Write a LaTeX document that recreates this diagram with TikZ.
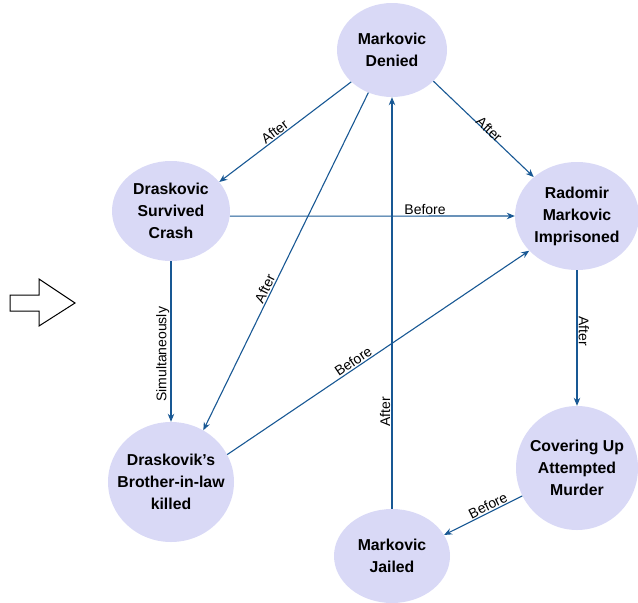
\documentclass[tikz,border=0pt]{standalone}
\usepackage{fontspec}
\setmainfont{Liberation Sans}
\usetikzlibrary{arrows.meta,shapes.geometric}
\definecolor{nodefill}{RGB}{217,217,246}
\definecolor{edgecol}{RGB}{24,88,148}
\begin{document}
\begin{tikzpicture}[x=1pt,y=-1pt,
  evt/.style={ellipse,fill=nodefill,draw=none,inner sep=0pt},
  evtxt/.style={align=center,font=\bfseries\fontsize{15.8}{22}\selectfont,inner sep=0pt},
  rel/.style={draw=edgecol,line width=1.1pt,-{Stealth[length=8pt,width=6.5pt]}},
  lbl/.style={font=\fontsize{14}{16}\selectfont,inner sep=1.2pt,text=black}]
\useasboundingbox (0,0) rectangle (638,603);

% block arrow on the left
\draw[line width=1pt,line join=miter] (10,295) -- (39,295) -- (39,279) -- (75,303) -- (39,326) -- (39,311) -- (10,311) -- cycle;

% events
\node[evt,minimum width=110pt,minimum height=94pt] (D) at (392,50) {};
\node[evtxt] (Dt) at (D) {Markovic\\Denied};
\node[evt,minimum width=118pt,minimum height=100pt] (S) at (171,211) {};
\node[evtxt] (St) at (S) {Draskovic\\Survived\\Crash};
\node[evt,minimum width=124pt,minimum height=108pt] (R) at (577,216) {};
\node[evtxt] (Rt) at (R) {Radomir\\Markovic\\Imprisoned};
\node[evt,minimum width=126pt,minimum height=120pt] (B) at (171,482) {};
\node[evtxt] (Bt) at (B) {Draskovik’s\\Brother-in-law\\killed};
\node[evt,minimum width=122pt,minimum height=124pt] (C) at (577,468) {};
\node[evtxt] (Ct) at (C) {Covering Up\\Attempted\\Murder};
\node[evt,minimum width=116pt,minimum height=94pt] (J) at (392,556) {};
\node[evtxt] (Jt) at (J) {Markovic\\Jailed};

% relations
\draw[rel] (D.218) -- node[lbl,pos=0.55,sloped,above]{After} (S.31);
\draw[rel] (D.323) -- node[lbl,pos=0.53,sloped,above,yshift=-3pt]{After} (R.138);
\draw[rel] (D.241) -- node[lbl,pos=0.59,sloped,above]{After} (B.58);
\draw[rel] (J.90) -- node[lbl,pos=0.235,rotate=90,anchor=south]{After} (D.270);
\draw[rel] (S.-5) -- node[lbl,pos=0.685,above]{Before} (R.180);
\draw[rel] (S.270) -- node[lbl,pos=0.58,rotate=90,anchor=south]{Simultaneously} (B.90);
\draw[rel] (B.26) -- node[lbl,pos=0.43,sloped,above]{Before} (R.216);
\draw[rel] (R.270) -- node[lbl,pos=0.45,rotate=-90,anchor=south]{After} (C.90);
\draw[rel] (C.207) -- node[lbl,pos=0.4,sloped,above]{Before} (J.22);
\end{tikzpicture}
\end{document}
